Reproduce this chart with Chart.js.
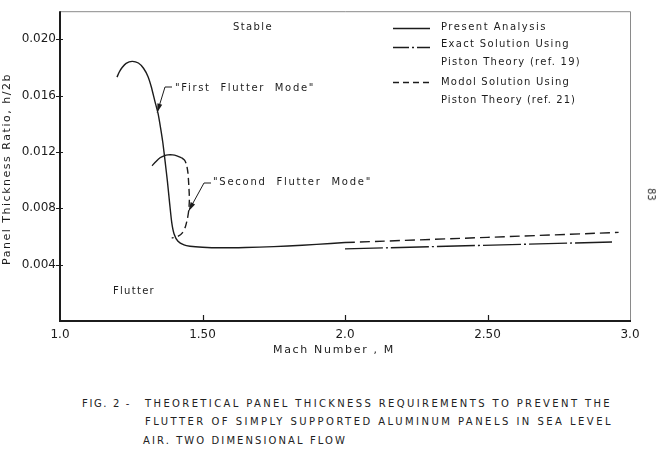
<!DOCTYPE html>
<html>
<head>
<meta charset="utf-8">
<script src="https://cdn.jsdelivr.net/npm/chart.js@4.4.0/dist/chart.umd.min.js"></script>
<style>
  html, body { margin: 0; padding: 0; background: #fff; }
  #wrap { position: relative; width: 661px; height: 457px; overflow: hidden; }
  #chart { position: absolute; left: 0; top: 0; }
  .cap { position: absolute; font-family: "DejaVu Sans"; font-size: 10px; color: #222;
         white-space: nowrap; line-height: 12px; }
  #page { position: absolute; left: 645px; top: 189px; font-family: "DejaVu Sans";
          font-size: 10px; color: #333; transform: rotate(90deg); transform-origin: center; }
</style>
</head>
<body>
<div id="wrap">
  <canvas id="chart" width="661" height="370"></canvas>
  <div class="cap" data-w="49" style="left:82px;top:398px">FIG. 2 -</div>
  <div class="cap" data-w="467" style="left:145px;top:398px">THEORETICAL PANEL THICKNESS REQUIREMENTS TO PREVENT THE</div>
  <div class="cap" data-w="468" style="left:145px;top:416px">FLUTTER OF SIMPLY SUPPORTED ALUMINUM PANELS IN SEA LEVEL</div>
  <div class="cap" data-w="204" style="left:143px;top:435px">AIR. TWO DIMENSIONAL FLOW</div>
  <div id="page">83</div>
</div>
<script>
// Mach number vs panel thickness ratio h/2b
const firstModeMach = [1.200, 1.208, 1.218, 1.232, 1.253, 1.275, 1.293, 1.309, 1.320, 1.333, 1.344, 1.353,
  1.361, 1.369, 1.377, 1.385, 1.392, 1.400, 1.414, 1.435, 1.456, 1.50, 1.56, 1.65, 1.75, 1.85, 1.95, 2.00];
const firstModeH = [0.01732, 0.01768, 0.01800, 0.01830, 0.01844, 0.01832, 0.01795, 0.01735, 0.01665, 0.01560,
  0.01474, 0.01370, 0.01264, 0.01130, 0.00990, 0.00830, 0.00700, 0.00620, 0.00566, 0.00540, 0.00531, 0.00524,
  0.00520, 0.00522, 0.00528, 0.00538, 0.00550, 0.00557];

const secondModeMach = [1.323, 1.337, 1.351, 1.365, 1.379, 1.395, 1.410, 1.427];
const secondModeH = [0.01103, 0.01133, 0.01159, 0.01173, 0.01180, 0.01180, 0.01173, 0.01159];

const secondModalMach = [1.427, 1.437, 1.444, 1.449, 1.452, 1.454, 1.452, 1.447, 1.440, 1.430, 1.415, 1.392];
const secondModalH = [0.01159, 0.01142, 0.01110, 0.01050, 0.00960, 0.00868, 0.00790, 0.00725, 0.00670, 0.00628,
  0.00602, 0.00589];

const modalMach = [2.00, 2.50, 2.96];
const modalH = [0.00557, 0.00594, 0.00629];

const exactMach = [2.00, 2.937];
const exactH = [0.00512, 0.00561];

const xTickValues = [1.0, 1.5, 2.0, 2.5, 3.0];
const xTickLabels = ["1.0", "1.50", "2.0", "2.50", "3.0"];
const yTickValues = [0.004, 0.008, 0.012, 0.016, 0.020];
const yTickLabels = ["0.004", "0.008", "0.012", "0.016", "0.020"];

const ink = "#1c1c1c";

function pts(xs, ys) {
  return xs.map((v, i) => ({ x: v, y: ys[i] }));
}

function lineSet(xs, ys, dash) {
  return {
    data: pts(xs, ys),
    showLine: true,
    borderColor: ink,
    borderWidth: 1.4,
    borderDash: dash,
    pointRadius: 0,
    tension: 0.2,
    fill: false,
  };
}

// text squeezed/stretched to the width it has in the figure
function fitText(ctx, str, x, y, w) {
  ctx.letterSpacing = "0px";
  const nat = ctx.measureText(str).width;
  ctx.letterSpacing = ((w - nat) / str.length) + "px";
  ctx.fillText(str, x, y);
  ctx.letterSpacing = "0px";
}

function arrow(ctx, pts) {
  ctx.beginPath();
  ctx.moveTo(pts[0][0], pts[0][1]);
  for (let i = 1; i < pts.length; i++) ctx.lineTo(pts[i][0], pts[i][1]);
  ctx.stroke();
  const [ax, ay] = pts[pts.length - 2];
  const [bx, by] = pts[pts.length - 1];
  const ang = Math.atan2(by - ay, bx - ax);
  ctx.beginPath();
  ctx.moveTo(bx, by);
  ctx.lineTo(bx - 9 * Math.cos(ang) + 2.5 * Math.sin(ang), by - 9 * Math.sin(ang) - 2.5 * Math.cos(ang));
  ctx.lineTo(bx - 9 * Math.cos(ang) - 2.5 * Math.sin(ang), by - 9 * Math.sin(ang) + 2.5 * Math.cos(ang));
  ctx.closePath();
  ctx.fill();
}

const annotate = {
  id: "annotate",
  afterDraw(chart) {
    const { ctx, chartArea: a, scales: { x, y } } = chart;
    ctx.save();

    // frame: thin top/right, heavy left/bottom
    ctx.strokeStyle = "#8a8a8a";
    ctx.lineWidth = 1;
    ctx.beginPath();
    ctx.moveTo(a.left, a.top + 0.5);
    ctx.lineTo(a.right + 0.5, a.top + 0.5);
    ctx.lineTo(a.right + 0.5, a.bottom);
    ctx.stroke();
    ctx.strokeStyle = ink;
    ctx.lineWidth = 2;
    ctx.beginPath();
    ctx.moveTo(a.left, a.top);
    ctx.lineTo(a.left, a.bottom);
    ctx.lineTo(a.right + 1, a.bottom);
    ctx.stroke();

    // tick marks
    ctx.lineWidth = 1.2;
    ctx.beginPath();
    yTickValues.forEach(v => {
      const py = Math.round(y.getPixelForValue(v)) + 0.5;
      ctx.moveTo(a.left - 4, py);
      ctx.lineTo(a.left + 3, py);
    });
    xTickValues.slice(1, -1).forEach(v => {
      const px = Math.round(x.getPixelForValue(v)) + 0.5;
      ctx.moveTo(px, a.bottom + 1);
      ctx.lineTo(px, a.bottom - 6);
    });
    ctx.stroke();

    ctx.fillStyle = ink;
    ctx.textBaseline = "middle";
    ctx.textAlign = "left";

    // axis titles
    ctx.font = '11px "DejaVu Sans"';
    fitText(ctx, "Mach Number , M", 273, 350, 122);
    ctx.save();
    ctx.translate(7, 169);
    ctx.rotate(-Math.PI / 2);
    fitText(ctx, "Panel Thickness Ratio, h/2b", -96, 0, 192);
    ctx.restore();

    // region labels
    ctx.font = '10px "DejaVu Sans"';
    fitText(ctx, "Stable", 233, 27, 40);
    fitText(ctx, "Flutter", 113, 291, 42);
    fitText(ctx, "\"First  Flutter  Mode\"", 175, 88, 140);
    fitText(ctx, "\"Second  Flutter  Mode\"", 213, 182, 159);

    // leaders
    ctx.lineWidth = 1;
    const t1 = [x.getPixelForValue(1.341), y.getPixelForValue(0.0148)];
    arrow(ctx, [[172, 87], [165, 87], t1]);
    const t2 = [x.getPixelForValue(1.451), y.getPixelForValue(0.0078)];
    arrow(ctx, [[211, 183], [204, 183], t2]);

    // legend
    ctx.font = '10px "DejaVu Sans"';
    fitText(ctx, "Present Analysis", 441, 27, 106);
    fitText(ctx, "Exact Solution Using", 441, 44, 129);
    fitText(ctx, "Piston Theory (ref. 19)", 441, 62, 140);
    fitText(ctx, "Modol Solution Using", 441, 82, 129);
    fitText(ctx, "Piston Theory (ref. 21)", 441, 100, 135);

    ctx.lineWidth = 1.3;
    ctx.beginPath();
    ctx.moveTo(393, 28.5); ctx.lineTo(430, 28.5);
    ctx.stroke();
    ctx.setLineDash([16, 3, 2, 3]);
    ctx.beginPath();
    ctx.moveTo(393, 47.5); ctx.lineTo(430, 47.5);
    ctx.stroke();
    ctx.setLineDash([6, 4]);
    ctx.beginPath();
    ctx.moveTo(393, 82.5); ctx.lineTo(430, 82.5);
    ctx.stroke();

    ctx.restore();
  }
};

new Chart(document.getElementById("chart"), {
  type: "scatter",
  data: {
    datasets: [
      lineSet(firstModeMach, firstModeH, []),
      lineSet(secondModeMach, secondModeH, []),
      lineSet(secondModalMach, secondModalH, [7, 4]),
      lineSet(modalMach, modalH, [10, 5]),
      lineSet(exactMach, exactH, [38, 3, 2, 3]),
    ],
  },
  options: {
    responsive: false,
    animation: false,
    layout: { padding: { top: 6, right: 31, left: 0, bottom: 0 } },
    plugins: { legend: { display: false }, tooltip: { enabled: false } },
    scales: {
      x: {
        type: "linear",
        min: 1.0,
        max: 3.0,
        afterBuildTicks: s => { s.ticks = xTickValues.map(v => ({ value: v })); },
        afterFit: s => { s.height = 49; },
        grid: { display: false, drawTicks: false },
        border: { display: false },
        ticks: {
          padding: 7,
          color: ink,
          maxRotation: 0,
          font: { family: "DejaVu Sans", size: 12 },
          callback: (v, i) => xTickLabels[i],
        },
      },
      y: {
        type: "linear",
        min: 0,
        max: 0.022,
        afterBuildTicks: s => { s.ticks = yTickValues.map(v => ({ value: v })); },
        afterFit: s => { s.width = 60; },
        grid: { display: false, drawTicks: false },
        border: { display: false },
        ticks: {
          padding: 4,
          color: ink,
          font: { family: "DejaVu Sans", size: 12 },
          callback: (v, i) => yTickLabels[i],
        },
      },
    },
  },
  plugins: [annotate],
});

// caption letter spacing to match the figure's widths
document.querySelectorAll(".cap").forEach(el => {
  const w = parseFloat(el.dataset.w);
  const nat = el.getBoundingClientRect().width;
  el.style.letterSpacing = ((w - nat) / el.textContent.length) + "px";
});
</script>
</body>
</html>
